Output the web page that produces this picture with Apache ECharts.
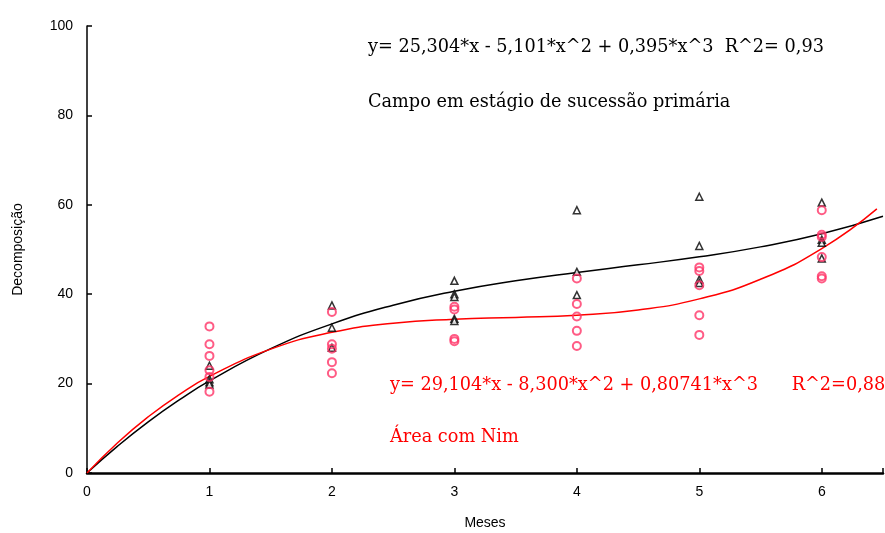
<!DOCTYPE html>
<html>
<head>
<meta charset="utf-8">
<script src="https://cdn.jsdelivr.net/npm/echarts@6/dist/echarts.min.js"></script>
<style>
html, body { margin: 0; padding: 0; background: #fff; }
#chart { width: 885px; height: 533px; }
</style>
</head>
<body>
<div id="chart"></div>
<script>
// Field decomposition observations (months vs. decomposition)
const campoMonths = [1, 1, 1, 1, 2, 2, 2, 3, 3, 3, 3, 3, 4, 4, 4, 5, 5, 5, 5, 6, 6, 6, 6];
const campoValues = [24, 21, 20.3, 19.8, 37.5, 32.5, 28, 43, 40, 39.4, 34.5, 34, 58.8, 45, 39.8, 61.8, 50.8, 43.3, 42.5, 60.5, 52.2, 51.5, 48];

const nimMonths = [1, 1, 1, 1, 1, 1, 2, 2, 2, 2, 2, 3, 3, 3, 3, 4, 4, 4, 4, 4, 5, 5, 5, 5, 5, 6, 6, 6, 6, 6, 6];
const nimValues = [32.8, 28.8, 26.2, 23.0, 21.5, 18.2, 36, 28.8, 27.8, 24.8, 22.3, 37.2, 36.6, 30, 29.5, 43.5, 37.8, 35, 31.8, 28.4, 46, 45.2, 42, 35.3, 30.9, 58.8, 53.3, 52.8, 48.3, 44, 43.5];

// Fitted curves, sampled along the month axis
const campoCurveX = [0, 0.25, 0.5, 0.75, 1, 1.5, 2, 2.5, 3, 3.5, 4, 4.5, 5, 5.5, 6, 6.5];
const campoCurveY = [0, 6.01, 11.43, 16.28, 20.6, 27.81, 33.36, 37.55, 40.67, 43.01, 44.88, 46.57, 48.37, 50.59, 53.51, 57.44];
const nimCurveX = [0, 0.25, 0.5, 0.75, 1, 1.5, 2, 2.5, 3, 3.5, 4, 4.5, 5, 5.5, 6, 6.45];
const nimCurveY = [0, 6.77, 12.58, 17.5, 21.61, 27.71, 31.47, 33.5, 34.41, 34.81, 35.29, 36.47, 38.95, 43.33, 50.22, 59.1];

const xTicks = [0, 1, 2, 3, 4, 5, 6];
const yTicks = [0, 20, 40, 60, 80, 100];

const campoEquation = 'y= 25,304*x - 5,101*x^2 + 0,395*x^3  R^2= 0,93';
const campoLabel = 'Campo em estágio de sucessão primária';
const nimEquation = 'y= 29,104*x - 8,300*x^2 + 0,80741*x^3      R^2=0,88';
const nimLabel = 'Área com Nim';

const pairs = (xs, ys) => xs.map((x, i) => [x, ys[i]]);

const chart = echarts.init(document.getElementById('chart'), null, { renderer: 'canvas' });
const serif = '"DejaVu Serif", "Liberation Serif", serif';
const sans = '"Liberation Sans", Arial, sans-serif';

chart.setOption({
  animation: false,
  backgroundColor: '#fff',
  grid: { left: 87, right: 2, top: 26, bottom: 60, containLabel: false, outerBoundsMode: 'none' },
  xAxis: {
    type: 'value', min: 0, max: 6.5, interval: 1,
    name: 'Meses', nameLocation: 'middle', nameGap: 43,
    nameTextStyle: { fontFamily: sans, fontSize: 14, color: '#000' },
    axisLine: { onZero: false, lineStyle: { color: '#000', width: 2.5 } },
    axisTick: { inside: true, length: 5, lineStyle: { color: '#000', width: 1.5 } },
    axisLabel: {
      margin: 12, fontFamily: sans, fontSize: 14, color: '#000',
      formatter: v => (xTicks.includes(v) ? String(v) : '')
    },
    splitLine: { show: false }
  },
  yAxis: {
    type: 'value', min: 0, max: 100, interval: 20,
    name: 'Decomposição', nameLocation: 'middle', nameGap: 62,
    nameTextStyle: { fontFamily: sans, fontSize: 14, color: '#000' },
    axisLine: { onZero: false, lineStyle: { color: '#000', width: 1.5 } },
    axisTick: { inside: true, length: 5, lineStyle: { color: '#000', width: 1.5 } },
    axisLabel: {
      margin: 14, fontFamily: sans, fontSize: 14, color: '#000',
      formatter: v => (yTicks.includes(v) ? String(v) : '')
    },
    splitLine: { show: false }
  },
  series: [
    {
      type: 'line', data: pairs(campoCurveX, campoCurveY), smooth: true,
      symbol: 'none', lineStyle: { color: '#000', width: 1.5 }, z: 2
    },
    {
      type: 'line', data: pairs(nimCurveX, nimCurveY), smooth: true,
      symbol: 'none', lineStyle: { color: '#ff0000', width: 1.5 }, z: 2
    },
    {
      type: 'scatter', data: pairs(campoMonths, campoValues),
      symbol: 'triangle', symbolSize: 7,
      itemStyle: { color: '#fff', borderColor: '#000', borderWidth: 1.5 }, z: 3
    },
    {
      type: 'scatter', data: pairs(nimMonths, nimValues),
      symbol: 'circle', symbolSize: 8,
      itemStyle: { color: 'rgba(255,255,255,0)', borderColor: '#ff3366', borderWidth: 2 }, z: 4
    }
  ],
  graphic: [
    { type: 'text', left: 368, top: 38, style: { text: campoEquation, fontFamily: serif, fontSize: 17.7, fill: '#000' } },
    { type: 'text', left: 368, top: 93, style: { text: campoLabel, fontFamily: serif, fontSize: 17.7, fill: '#000' } },
    { type: 'text', left: 390, top: 376, style: { text: nimEquation, fontFamily: serif, fontSize: 17.7, fill: '#ff0000' } },
    { type: 'text', left: 390, top: 428, style: { text: nimLabel, fontFamily: serif, fontSize: 17.7, fill: '#ff0000' } }
  ]
});
</script>
</body>
</html>
